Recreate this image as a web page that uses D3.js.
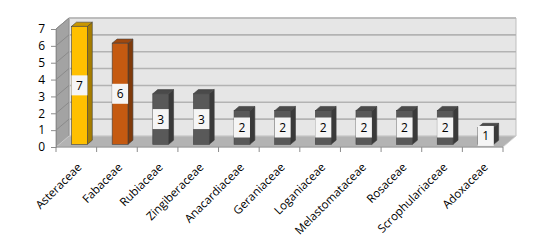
<!DOCTYPE html>
<html>
<head>
<meta charset="utf-8">
<script src="https://cdn.jsdelivr.net/npm/d3@7"></script>
<style>
    body { margin: 0; background: #fff; }
    text { font-family: "Open Sans", sans-serif; }
</style>
</head>
<body>
<svg id="chart" width="558" height="247"></svg>
<script>
// Plant families and number of species for each (3D column chart)
const families = ['Asteraceae', 'Fabaceae', 'Rubiaceae', 'Zingiberaceae', 'Anacardiaceae', 'Geraniaceae',
    'Loganiaceae', 'Melastomataceae', 'Rosaceae', 'Scrophulariaceae', 'Adoxaceae'];
const counts = [7, 6, 3, 3, 2, 2, 2, 2, 2, 2, 1];
const yTicks = [0, 1, 2, 3, 4, 5, 6, 7];

// front, side, top colours
const GOLD = ['#FFC000', '#A67D00', '#C99700'];
const ORANGE = ['#C55A11', '#7F3A0B', '#A0480E'];
const GRAY = ['#595959', '#3A3A3A', '#4A4A4A'];
const barColors = [GOLD, ORANGE, GRAY, GRAY, GRAY, GRAY, GRAY, GRAY, GRAY, GRAY, GRAY];

const DEPTH = { dx: 13, dy: -11 };   // offset of back wall from front plane
const BAR_DEPTH = { front: 0.24, back: 0.62 };

const svg = d3.select('#chart');

const xScale = d3.scaleBand()
    .domain(families)
    .range([56, 503]);
const yScale = d3.scaleLinear()
    .domain([0, 7])
    .range([147, 29]);

const x0 = xScale.range()[0], x1 = xScale.range()[1];
const yBottom = yScale(0), yTop = yScale(7);
const pts = arr => arr.map(p => p.join(',')).join(' ');

// Walls
svg.append('polygon')   // back wall
    .attr('points', pts([[x0 + DEPTH.dx, yTop + DEPTH.dy], [x1 + DEPTH.dx, yTop + DEPTH.dy],
        [x1 + DEPTH.dx, yBottom + DEPTH.dy], [x0 + DEPTH.dx, yBottom + DEPTH.dy]]))
    .attr('fill', '#E6E6E6')
    .attr('stroke', '#BFBFBF');
svg.append('polygon')   // left wall
    .attr('points', pts([[x0, yBottom], [x0, yTop], [x0 + DEPTH.dx, yTop + DEPTH.dy], [x0 + DEPTH.dx, yBottom + DEPTH.dy]]))
    .attr('fill', '#A3A3A3')
    .attr('stroke', '#8C8C8C')
    .attr('stroke-width', 0.8);

// Gridlines on the back and left walls
const grid = svg.append('g');
grid.selectAll('.gback')
    .data(yTicks.slice(1))
    .join('line')
    .attr('x1', x0 + DEPTH.dx).attr('x2', x1 + DEPTH.dx)
    .attr('y1', d => yScale(d) + DEPTH.dy).attr('y2', d => yScale(d) + DEPTH.dy)
    .attr('stroke', '#B3B3B3')
    .attr('stroke-width', 1.6);
grid.selectAll('.gleft')
    .data(yTicks.slice(1))
    .join('line')
    .attr('x1', x0).attr('x2', x0 + DEPTH.dx)
    .attr('y1', d => yScale(d)).attr('y2', d => yScale(d) + DEPTH.dy)
    .attr('stroke', '#8A8A8A')
    .attr('stroke-width', 1);

// Floor
svg.append('polygon')
    .attr('points', pts([[x0, yBottom], [x1, yBottom], [x1 + DEPTH.dx, yBottom + DEPTH.dy], [x0 + DEPTH.dx, yBottom + DEPTH.dy]]))
    .attr('fill', '#B3B3B3')
    .attr('stroke', '#D0D0D0')
    .attr('stroke-width', 0.8);

// Bars
const barW = xScale.bandwidth() * 0.39;
const fdx = DEPTH.dx * BAR_DEPTH.front, fdy = DEPTH.dy * BAR_DEPTH.front;
const bdx = DEPTH.dx * (BAR_DEPTH.back - BAR_DEPTH.front), bdy = DEPTH.dy * (BAR_DEPTH.back - BAR_DEPTH.front);

const bars = svg.append('g')
    .selectAll('g')
    .data(families.map((f, i) => ({ name: f, value: counts[i], colors: barColors[i] })))
    .join('g')
    .attr('transform', d => `translate(${xScale(d.name) + xScale.bandwidth() / 2 - barW / 2 + fdx},${fdy})`);

bars.append('polygon')  // side
    .attr('points', d => pts([[barW, yScale(d.value)], [barW + bdx, yScale(d.value) + bdy],
        [barW + bdx, yBottom + bdy], [barW, yBottom]]))
    .attr('fill', d => d.colors[1])
    .attr('stroke', '#404040')
    .attr('stroke-width', 0.6);
bars.append('polygon')  // top
    .attr('points', d => pts([[0, yScale(d.value)], [bdx, yScale(d.value) + bdy],
        [barW + bdx, yScale(d.value) + bdy], [barW, yScale(d.value)]]))
    .attr('fill', d => d.colors[2])
    .attr('stroke', '#404040')
    .attr('stroke-width', 0.6);
bars.append('rect')     // front
    .attr('x', 0)
    .attr('y', d => yScale(d.value))
    .attr('width', barW)
    .attr('height', d => yBottom - yScale(d.value))
    .attr('fill', d => d.colors[0])
    .attr('stroke', '#404040')
    .attr('stroke-width', 0.6);

// Data labels
bars.append('rect')
    .attr('x', barW / 2 - 8)
    .attr('y', d => (yScale(d.value) + yBottom) / 2 - 10)
    .attr('width', 16)
    .attr('height', 20)
    .attr('fill', '#F5F5F5');
bars.append('text')
    .attr('x', barW / 2)
    .attr('y', d => (yScale(d.value) + yBottom) / 2 + 4.5)
    .attr('text-anchor', 'middle')
    .attr('font-size', 12)
    .attr('fill', '#000')
    .text(d => d.value);

// Y axis
const yAxis = svg.append('g')
    .attr('transform', `translate(${x0},0)`)
    .call(d3.axisLeft(yScale).tickValues(yTicks).tickFormat(d3.format('d')).tickSize(5).tickPadding(6));
yAxis.selectAll('path, line').attr('stroke', '#8C8C8C');
yAxis.selectAll('text').attr('font-size', 12).attr('fill', '#000').style('font-family', '"Open Sans", sans-serif');

// X axis: category boundary ticks and rotated labels
const xAxis = svg.append('g');
xAxis.append('line')
    .attr('x1', x0).attr('x2', x1)
    .attr('y1', yBottom).attr('y2', yBottom)
    .attr('stroke', '#8C8C8C');
xAxis.selectAll('.tick')
    .data(families.map(f => xScale(f)).concat([x1]))
    .join('line')
    .attr('x1', d => d).attr('x2', d => d)
    .attr('y1', yBottom).attr('y2', yBottom + 5)
    .attr('stroke', '#8C8C8C');
xAxis.selectAll('text')
    .data(families)
    .join('text')
    .attr('transform', d => `translate(${xScale(d) + xScale.bandwidth() / 2 + 6},${yBottom + 21}) rotate(-45)`)
    .attr('text-anchor', 'end')
    .attr('font-size', 11.5)
    .attr('fill', '#000')
    .text(d => d);
</script>
</body>
</html>
